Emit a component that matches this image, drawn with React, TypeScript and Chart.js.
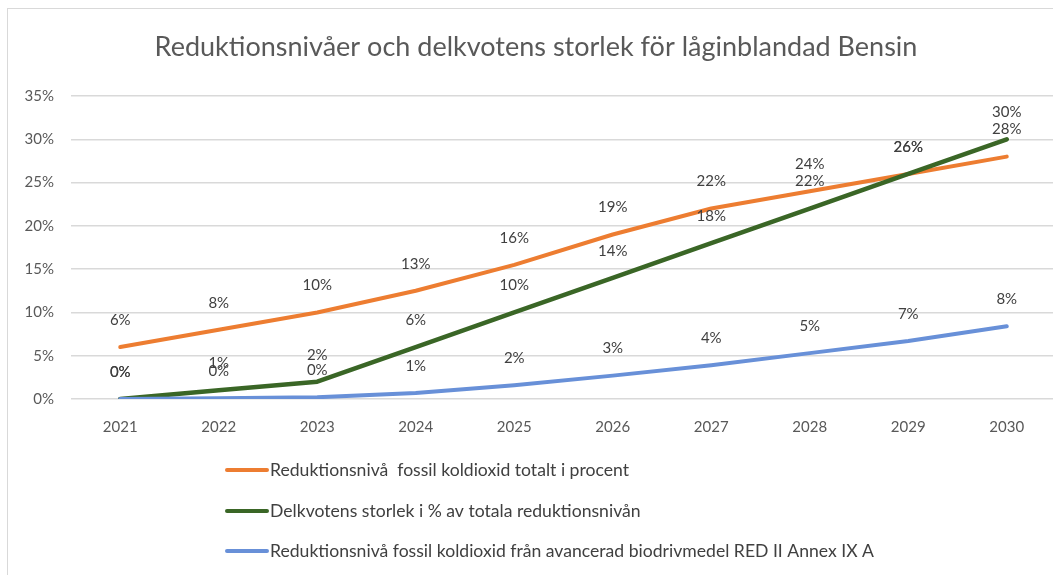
import React, { useEffect, useRef } from "react";
import { Chart, registerables } from "chart.js";

Chart.register(...registerables);

const TITLE = "Reduktionsnivåer och delkvotens storlek för låginblandad Bensin";
const YEARS = ["2021", "2022", "2023", "2024", "2025", "2026", "2027", "2028", "2029", "2030"];
const TOTAL = [6, 8, 10, 12.5, 15.5, 19, 22, 24, 26, 28];
const DELKVOT = [0, 1, 2, 6, 10, 14, 18, 22, 26, 30];
const AVANCERAD = [0, 0.1, 0.2, 0.7, 1.6, 2.7, 3.9, 5.3, 6.7, 8.4];
const LABELS = [
  "Reduktionsnivå  fossil koldioxid totalt i procent",
  "Delkvotens storlek i % av totala reduktionsnivån",
  "Reduktionsnivå fossil koldioxid från avancerad biodrivmedel RED II Annex IX A",
];
const COLORS = ["#ED7D31", "#3A6626", "#6890D8"];
const Y_TICKS_MAX = 35;
const Y_STEP = 5;

const FONT = "Lato, 'Open Sans', sans-serif";

const dataLabels = {
  id: "dataLabels",
  afterDatasetsDraw(chart: any) {
    const ctx = chart.ctx;
    ctx.save();
    ctx.font = `15px ${FONT}`;
    ctx.fillStyle = "#404040";
    ctx.textAlign = "center";
    ctx.textBaseline = "middle";
    chart.data.datasets.forEach((ds: any, i: number) => {
      const meta = chart.getDatasetMeta(i);
      meta.data.forEach((pt: any, j: number) => {
        const v = ds.data[j];
        ctx.fillText(Math.round(v) + "%", pt.x, pt.y - 27);
      });
    });
    ctx.restore();
  },
};

const customLegend = {
  id: "customLegend",
  afterDraw(chart: any) {
    const ctx = chart.ctx;
    ctx.save();
    ctx.font = `17.6px ${FONT}`;
    ctx.textBaseline = "middle";
    ctx.textAlign = "left";
    const rows = [470, 511, 551];
    LABELS.forEach((label, i) => {
      const y = rows[i];
      ctx.strokeStyle = COLORS[i];
      ctx.lineWidth = 4;
      ctx.lineCap = "round";
      ctx.beginPath();
      ctx.moveTo(227, y);
      ctx.lineTo(267, y);
      ctx.stroke();
      ctx.fillStyle = "#404040";
      ctx.fillText(label, 270, y);
    });
    ctx.restore();
  },
};

export default function App() {
  const ref = useRef<HTMLCanvasElement>(null);
  useEffect(() => {
    if (!ref.current) return;
    const chart = new Chart(ref.current, {
      type: "line",
      data: {
        labels: YEARS,
        datasets: [
          { label: LABELS[0], data: TOTAL, borderColor: COLORS[0], borderWidth: 4, order: 2 },
          { label: LABELS[1], data: DELKVOT, borderColor: COLORS[1], borderWidth: 4.5, order: 1 },
          { label: LABELS[2], data: AVANCERAD, borderColor: COLORS[2], borderWidth: 4, order: 0 },
        ].map((d) => ({
          ...d,
          pointRadius: 0,
          tension: 0,
          fill: false,
          borderCapStyle: "round" as const,
          borderJoinStyle: "round" as const,
        })),
      },
      options: {
        responsive: false,
        animation: false,
        devicePixelRatio: 1,
        layout: { padding: { left: 16, right: 16, top: 0, bottom: 0 } },
        plugins: {
          legend: { display: false },
          tooltip: { enabled: false },
          title: {
            display: true,
            text: TITLE,
            color: "#595959",
            font: { family: FONT, size: 27, weight: "normal", lineHeight: 1.2 },
            padding: { top: 31, bottom: 32.6 },
          },
        },
        scales: {
          x: {
            offset: true,
            grid: { display: false, drawTicks: false },
            border: { display: false },
            ticks: { color: "#595959", font: { family: FONT, size: 15 }, padding: 19, maxRotation: 0 },
            afterFit: (s: any) => {
              s.height = 176;
            },
          },
          y: {
            min: 0,
            max: Y_TICKS_MAX,
            grid: { color: "#d9d9d9", lineWidth: 1.5, drawTicks: false },
            border: { display: false },
            ticks: {
              stepSize: Y_STEP,
              color: "#595959",
              font: { family: FONT, size: 15 },
              padding: 17,
              callback: (v: any) => v + "%",
            },
            afterFit: (s: any) => {
              s.width = 55;
            },
          },
        },
      },
      plugins: [dataLabels, customLegend],
    });
    return () => chart.destroy();
  }, []);

  return (
    <div
      style={{
        position: "fixed",
        left: 0,
        top: 0,
        width: 1053,
        height: 575,
        overflow: "hidden",
        background: "#fff",
      }}
    >
      <div
        style={{
          position: "absolute",
          left: 7,
          top: 8,
          width: 1100,
          height: 600,
          border: "1.5px solid #d9d9d9",
        }}
      />
      <canvas
        ref={ref}
        width={1072}
        height={575}
        style={{ position: "absolute", left: 0, top: 0, width: 1072, height: 575 }}
      />
    </div>
  );
}
